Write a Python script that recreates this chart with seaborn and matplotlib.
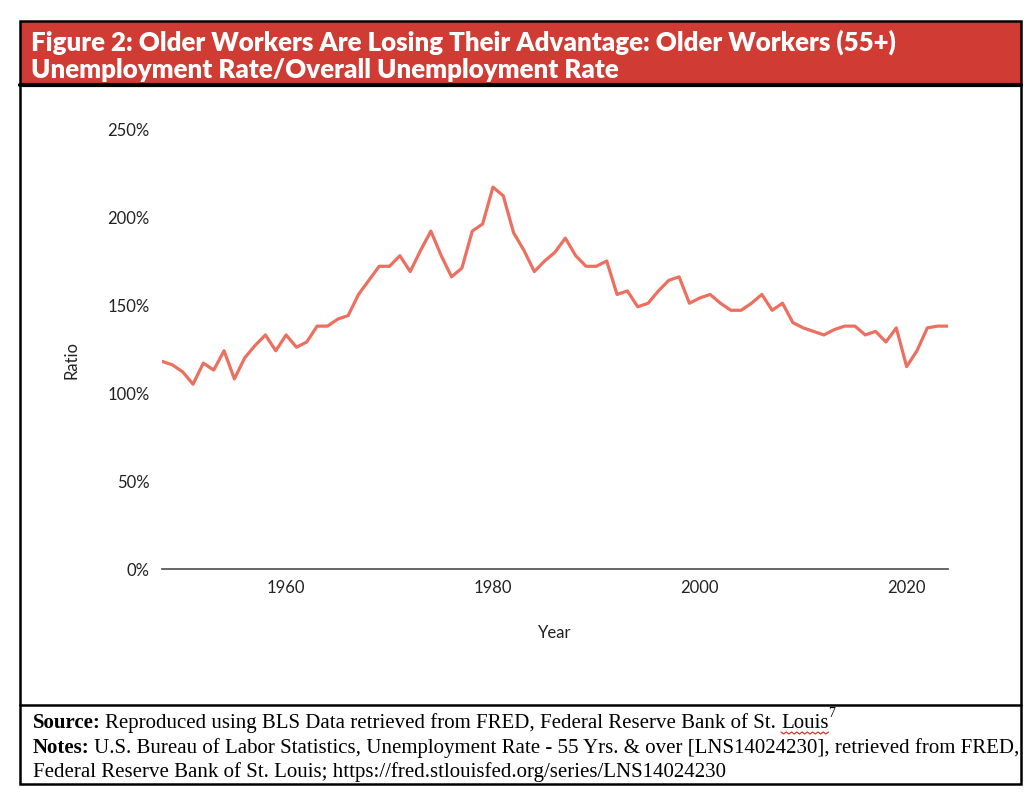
import numpy as np
import pandas as pd
import seaborn as sns
import matplotlib.pyplot as plt
from matplotlib.patches import Rectangle
from matplotlib.lines import Line2D
from matplotlib.ticker import PercentFormatter

sns.set_theme(style="white")

# datos (55+ / total, en %)
years = list(range(1948, 2025))
ratio = [118, 116, 112, 105, 117, 113, 124, 108, 120, 127,
         133, 124, 133, 126, 129, 138, 138, 142, 144, 156,
         164, 172, 172, 178, 169, 181, 192, 178, 166, 171,
         192, 196, 217, 212, 191, 181, 169, 175, 180, 188,
         178, 172, 172, 175, 156, 158, 149, 151, 158, 164,
         166, 151, 154, 156, 151, 147, 147, 151, 156, 147,
         151, 140, 137, 135, 133, 136, 138, 138, 133, 135,
         129, 137, 115, 124, 137, 138, 138]
yticks = [0, 50, 100, 150, 200, 250]
xticks = [1960, 1980, 2000, 2020]
title_lines = ["Figure 2: Older Workers Are Losing Their Advantage: Older Workers (55+)",
               "Unemployment Rate/Overall Unemployment Rate"]

df = pd.DataFrame({"Year": years, "Ratio": ratio})

W, H = 1036, 810
fig = plt.figure(figsize=(W / 100, H / 100), dpi=100)
fig.patch.set_facecolor("white")

def fx(px):
    return px / W

def fy(py):
    return 1 - py / H

# caja del grafico
ax = fig.add_axes([fx(162), fy(569), fx(948) - fx(162), fy(129) - fy(569)])
sns.lineplot(data=df, x="Year", y="Ratio", ax=ax, color="#EC6F5F", linewidth=2.3)
ax.set_xlim(1948, 2024)
ax.set_ylim(0, 250)
ax.set_yticks(yticks)
ax.set_xticks(xticks)
ax.yaxis.set_major_formatter(PercentFormatter(decimals=0))
for s in ["top", "right", "left"]:
    ax.spines[s].set_visible(False)
ax.spines["bottom"].set_color("#595959")
ax.spines["bottom"].set_linewidth(1.3)
ax.tick_params(axis="both", length=0, labelsize=12, labelcolor="#222222")
ax.tick_params(axis="y", pad=9)
ax.tick_params(axis="x", pad=8)
for lab in ax.get_xticklabels() + ax.get_yticklabels():
    lab.set_fontfamily("Lato")
ax.set_xlabel("")
ax.set_ylabel("")
fig.text(fx(72), fy(360), "Ratio", rotation=90, ha="center", va="center",
         fontsize=12, family="Lato", color="#222222")
fig.text(fx(555), fy(633), "Year", ha="center", va="center",
         fontsize=12, family="Lato", color="#222222")

# marco, banda roja y separadores
fig.patches.append(Rectangle((fx(20), fy(84)), fx(1021) - fx(20), fy(21) - fy(84),
                             transform=fig.transFigure, facecolor="#D03B33",
                             edgecolor="none", zorder=0))
fig.patches.append(Rectangle((fx(20), fy(784)), fx(1021) - fx(20), fy(21) - fy(784),
                             transform=fig.transFigure, facecolor="none",
                             edgecolor="black", linewidth=1.8, zorder=3))
fig.lines.append(Line2D([fx(20), fx(1021)], [fy(85), fy(85)], transform=fig.transFigure,
                        color="black", linewidth=3))
fig.lines.append(Line2D([fx(20), fx(1021)], [fy(705), fy(705)], transform=fig.transFigure,
                        color="black", linewidth=1.8))

fig.text(fx(31), fy(42), title_lines[0], ha="left", va="center", color="white",
         fontsize=18.6, fontweight="heavy", family="Lato")
fig.text(fx(31), fy(70), title_lines[1], ha="left", va="center", color="white",
         fontsize=18.6, fontweight="heavy", family="Lato")

# fuente y notas
serif = "Liberation Serif"
fs = 15
fig.canvas.draw()
r = fig.canvas.get_renderer()

def bold_then(x, y, b, rest):
    t1 = fig.text(fx(x), fy(y), b, ha="left", va="baseline", fontsize=fs,
                  fontweight="bold", family=serif, color="black")
    bb = t1.get_window_extent(renderer=r)
    t2 = fig.text(bb.x1 / W + fx(4), fy(y), rest, ha="left", va="baseline",
                  fontsize=fs, family=serif, color="black")
    return t2

t = bold_then(33, 728, "Source:", "Reproduced using BLS Data retrieved from FRED, Federal Reserve Bank of St. ")
bb = t.get_window_extent(renderer=r)
tl = fig.text(bb.x1 / W, fy(728), "Louis", ha="left", va="baseline", fontsize=fs,
              family=serif, color="black")
bl = tl.get_window_extent(renderer=r)
fig.text(bl.x1 / W, fy(717), "7", ha="left", va="baseline", fontsize=10,
         family=serif, color="black")
# subrayado ondulado rojo bajo "Louis"
zx = np.linspace(bl.x0, bl.x1, int((bl.x1 - bl.x0) / 2.5))
zy = (H - 732) + np.where(np.arange(len(zx)) % 2 == 0, 0, -2.0)
fig.lines.append(Line2D(zx / W, zy / H, transform=fig.transFigure, color="#D63A2F",
                        linewidth=0.9))
bold_then(33, 753, "Notes:", "U.S. Bureau of Labor Statistics, Unemployment Rate - 55 Yrs. & over [LNS14024230], retrieved from FRED,")
fig.text(fx(33), fy(777), "Federal Reserve Bank of St. Louis; https://fred.stlouisfed.org/series/LNS14024230",
         ha="left", va="baseline", fontsize=fs, family=serif, color="black")

fig.savefig("out.png", dpi=100)
